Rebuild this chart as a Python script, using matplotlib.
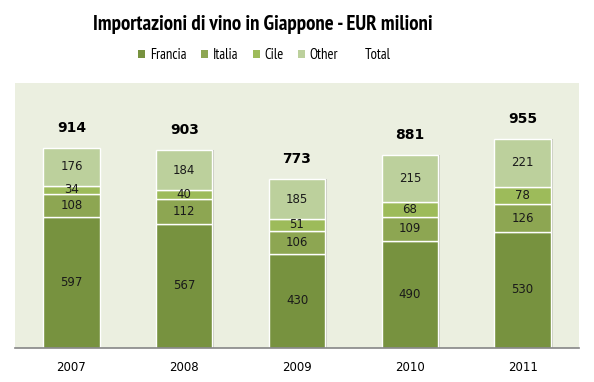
import matplotlib.pyplot as plt
import matplotlib.patheffects as pe
import numpy as np
from matplotlib.patches import Patch
from matplotlib.lines import Line2D

anni = ['2007', '2008', '2009', '2010', '2011']
francia = [597, 567, 430, 490, 530]
italia = [108, 112, 106, 109, 126]
cile = [34, 40, 51, 68, 78]
other = [176, 184, 185, 215, 221]
totali = [914, 903, 773, 881, 955]

serie = ['Francia', 'Italia', 'Cile', 'Other']
colori = ['#77923f', '#8da652', '#9dbb5a', '#bcd09c']

fig = plt.figure(figsize=(5.94, 3.82), dpi=100)
ax = fig.add_axes([0.0253, 0.089, 0.9495, 0.694])
ax.set_facecolor('#ebefe0')

ombra = [pe.SimplePatchShadow(offset=(1.3, 0), shadow_rgbFace='#b5b8ad', alpha=0.7),
         pe.Normal()]

x = np.arange(len(anni))
base = np.zeros(len(anni))
for nome, valori, col in zip(serie, [francia, italia, cile, other], colori):
    barre = ax.bar(x, valori, 0.5, bottom=base, color=col, edgecolor='white',
                   linewidth=1.0, label=nome, zorder=3)
    for b, v in zip(barre, valori):
        b.set_path_effects(ombra)
        ax.text(b.get_x() + b.get_width() / 2, b.get_y() + b.get_height() / 2,
                str(v), ha='center', va='center', fontsize=8.5,
                color='#1a1a1a', zorder=4)
    base = base + np.array(valori)

# etichette dei totali sopra le colonne
for xi, t in zip(x, totali):
    ax.text(xi, t + 90, str(t), ha='center', va='center', fontsize=10,
            fontweight='bold', color='black')

ax.set_xlim(-0.5, 4.5)
ax.set_ylim(0, 1210)
ax.set_xticks(x)
ax.set_xticklabels(anni, fontsize=8.5)
ax.tick_params(axis='x', length=0, pad=9)
ax.set_yticks([])
for lato in ['top', 'left', 'right']:
    ax.spines[lato].set_visible(False)
ax.spines['bottom'].set_color('#868686')
ax.spines['bottom'].set_linewidth(1.2)
ax.spines['bottom'].set_zorder(5)

fig.text(0.443, 0.937, 'Importazioni di vino in Giappone - EUR milioni',
         ha='center', va='center', fontsize=15, fontweight='bold',
         family=['PT Sans Narrow', 'DejaVu Sans'])

maniglie = [Patch(facecolor=c, label=n) for n, c in zip(serie, colori)]
maniglie.append(Line2D([], [], color='none', label='Total'))
fig.legend(handles=maniglie, loc='center', bbox_to_anchor=(0.445, 0.856),
           ncol=5, frameon=False, handlelength=0.5, handleheight=0.5,
           handletextpad=0.3, columnspacing=1.0,
           prop={'family': ['PT Sans Narrow', 'DejaVu Sans'], 'size': 10.5})

fig.savefig('out.png', dpi=100)
